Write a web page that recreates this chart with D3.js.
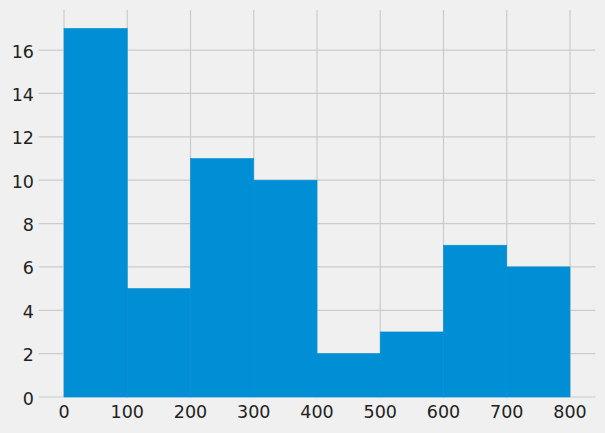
<!DOCTYPE html>
<html><head><meta charset="utf-8">
<script src="https://cdn.jsdelivr.net/npm/d3@7"></script>
<style>
html,body{margin:0;padding:0;background:#f0f0f0;}
svg{display:block;}
text{font-family:"DejaVu Sans",sans-serif;fill:#222;}
</style></head><body>
<svg id="c" width="605" height="433"></svg>
<script>
const binStarts = [0, 100, 200, 300, 400, 500, 600, 700];
const binWidth = 100;
const counts = [17, 5, 11, 10, 2, 3, 7, 6];
const xTicks = [0, 100, 200, 300, 400, 500, 600, 700, 800];
const yTicks = [0, 2, 4, 6, 8, 10, 12, 14, 16];

const W = 605, H = 433;
const m = {left: 38.7, right: 9.7, top: 10, bottom: 36};
const svg = d3.select("#c");
svg.append("rect").attr("width", W).attr("height", H).attr("fill", "#f0f0f0");

const x = d3.scaleLinear().domain([-40, 840]).range([m.left, W - m.right]);
const y = d3.scaleLinear().domain([0, 17.85]).range([H - m.bottom, m.top]);

const g = svg.append("g");
// grid
g.selectAll(".vg").data(xTicks).join("line")
  .attr("x1", d => x(d)).attr("x2", d => x(d))
  .attr("y1", y(17.85)).attr("y2", y(0))
  .attr("stroke", "#cbcbcb").attr("stroke-width", 1.2);
g.selectAll(".hg").data(yTicks).join("line")
  .attr("x1", x(-40)).attr("x2", x(840))
  .attr("y1", d => y(d)).attr("y2", d => y(d))
  .attr("stroke", "#cbcbcb").attr("stroke-width", 1.2);

// bars
g.selectAll(".bar").data(binStarts).join("rect")
  .attr("x", d => x(d))
  .attr("width", d => x(d + binWidth) - x(d))
  .attr("y", (d, i) => y(counts[i]))
  .attr("height", (d, i) => y(0) - y(counts[i]))
  .attr("fill", "#008fd5")
  .attr("stroke", "#008fd5").attr("stroke-width", 0.6);

// tick labels
g.selectAll(".xl").data(xTicks).join("text")
  .attr("x", d => x(d)).attr("y", 418)
  .attr("text-anchor", "middle").attr("font-size", 17.5)
  .text(d => d);
g.selectAll(".yl").data(yTicks).join("text")
  .attr("x", 34).attr("y", d => y(d) + 7.5)
  .attr("text-anchor", "end").attr("font-size", 17.5)
  .text(d => d);
</script>
</body></html>
